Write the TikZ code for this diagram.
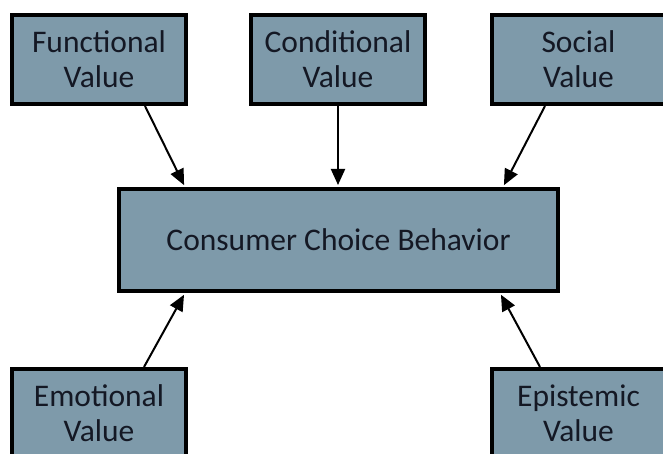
\documentclass[tikz,border=0pt]{standalone}
\usepackage{fontspec}
\setmainfont{Carlito}
\usetikzlibrary{arrows.meta}
\definecolor{boxfill}{RGB}{126,154,170}
\definecolor{boxtext}{RGB}{20,24,36}
\begin{document}
\begin{tikzpicture}[x=1pt,y=-1pt,
  valbox/.style={draw=black,line width=4pt,fill=boxfill,text=boxtext,
    minimum width=174pt,minimum height=89pt,inner sep=0pt,align=center,
    font=\fontsize{31.5}{35}\selectfont},
  mainbox/.style={draw=black,line width=4pt,fill=boxfill,text=boxtext,
    minimum width=439pt,minimum height=102pt,inner sep=0pt,
    font=\fontsize{31.5}{35}\selectfont},
  conn/.style={line width=2pt,-{Triangle[length=16pt,width=14pt]},shorten >=2pt}]
\useasboundingbox (0,0) rectangle (663,454);
\node[valbox] (f) at (99,59.5) {Functional\\Value};
\node[valbox] (cv) at (338,59.5) {Conditional\\Value};
\node[valbox] (s) at (578.5,59.5) {Social\\Value};
\node[valbox] (em) at (99,413.5) {Emotional\\Value};
\node[valbox] (ep) at (578.5,413.5) {Epistemic\\Value};
\node[mainbox] (c) at (338.5,240) {Consumer Choice Behavior};
\draw[conn] ([xshift=46pt]f.south) -- ([xshift=-153.5pt]c.north);
\draw[conn] (cv.south) -- (cv.south |- c.north);
\draw[conn] ([xshift=-33.5pt]s.south) -- ([xshift=164.5pt]c.north);
\draw[conn] ([xshift=45pt]em.north) -- ([xshift=-153.5pt]c.south);
\draw[conn] ([xshift=-38.5pt]ep.north) -- ([xshift=161.5pt]c.south);
\end{tikzpicture}
\end{document}
